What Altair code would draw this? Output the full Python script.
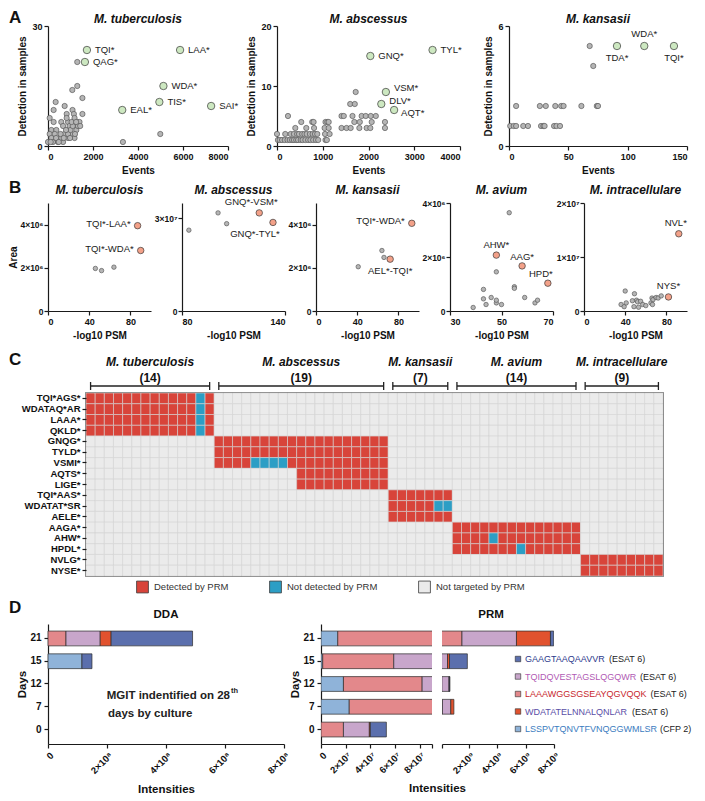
import altair as alt
import pandas as pd

FONT = "Liberation Sans"
SUP = {6: "⁶", 7: "⁷", 8: "⁸", 9: "⁹"}

# ================= Panel A data: events vs detection in samples =================
A_TB_GREY = [(1300, 21), (1080, 14), (1300, 15), (1530, 12), (1530, 8), (830, 8), (740, 10), (1090, 9),
             (1150, 8), (250, 9), (340, 11), (74, 7), (250, 6), (590, 6), (890, 6), (1110, 6), (1300, 6),
             (670, 5), (960, 5), (1260, 5), (830, 7), (1180, 7), (1400, 6), (150, 4), (370, 4), (740, 3),
             (1040, 3), (1260, 4), (1330, 5), (74, 3), (300, 3), (520, 2), (150, 2), (440, 1), (670, 1),
             (890, 2), (0, 1), (220, 1), (590, 2), (890, 3), (1180, 2), (1430, 5), (3330, 1), (4990, 3),
             (1000, 4), (1200, 3), (560, 3), (800, 4), (1100, 5), (980, 2), (360, 2), (120, 1), (480, 1),
             (700, 2), (1050, 6), (1250, 6)]
A_TB_LAB = ["TQI*", "QAG*", "LAA*", "WDA*", "TIS*", "SAI*", "EAL*"]
A_TB_LAB_X = [1730, 1640, 5870, 5130, 4950, 7250, 3300]
A_TB_LAB_Y = [24, 21, 24, 15, 11, 10, 9]

A_AB_GREY = [(20, 1), (60, 1), (110, 1), (170, 1), (230, 1), (280, 1), (330, 1), (370, 1), (420, 1), (460, 1),
             (520, 1), (560, 1), (620, 1), (680, 1), (730, 1), (790, 1), (850, 1), (900, 1), (1060, 1), (1090, 1),
             (0, 2), (180, 2), (300, 2), (370, 2), (440, 2), (480, 2), (550, 2), (600, 2), (650, 2), (720, 2),
             (780, 2), (830, 2), (880, 2), (1050, 2), (1150, 2),
             (400, 3), (640, 3), (810, 3), (1040, 3), (1130, 3), (1410, 3), (1520, 3), (1610, 3), (1800, 3),
             (1960, 3), (2040, 3), (2360, 3),
             (530, 4), (770, 4), (800, 4), (1060, 4), (1100, 4), (1130, 4), (1690, 4), (1810, 4), (2070, 4), (2360, 4),
             (240, 5), (1410, 5), (1460, 5), (1650, 5), (1850, 5), (1940, 5), (2050, 5), (2160, 5),
             (1600, 7), (1700, 7), (1720, 9)]
A_AB_LAB = ["GNQ*", "TYL*", "VSM*", "DLV*", "AQT*"]
A_AB_LAB_X = [2040, 3400, 2380, 2280, 2560]
A_AB_LAB_Y = [15, 16, 9, 7, 6]

A_KA_GREY = [(68, 5), (71, 4), (6, 2), (26, 2), (31, 2), (39, 2), (44, 2), (46, 2), (61, 2), (74, 2), (75, 2),
             (1, 1), (4, 1), (6, 1), (12, 1), (16, 1), (27, 1), (29, 1), (30, 1), (38, 1), (40, 1), (43, 1)]
A_KA_LAB = ["TDA*", "WDA*", "TQI*"]
A_KA_LAB_X = [91, 114, 139]
A_KA_LAB_Y = [5, 5, 5]

# ================= Panel B data: -log10 PSM vs area =================
B_TB_GREY = [(46, 1.97e6), (52, 1.87e6), (64, 2.03e6)]
B_TB_LAB = ["TQI*-LAA*", "TQI*-WDA*"]
B_TB_LAB_X = [87, 90]
B_TB_LAB_Y = [3.95e6, 2.8e6]

B_AB_GREY = [(84, 2.62e7), (101, 3.18e7), (106, 2.83e7)]
B_AB_LAB = ["GNQ*-VSM*", "GNQ*-TYL*"]
B_AB_LAB_X = [125, 133]
B_AB_LAB_Y = [3.18e7, 2.87e7]

B_KA_GREY = [(64, 2.8e6), (66, 2.48e6), (41, 2.05e6)]
B_KA_LAB = ["TQI*-WDA*", "AEL*-TQI*"]
B_KA_LAB_X = [93, 72]
B_KA_LAB_Y = [4.06e6, 2.4e6]

B_AV_GREY = [(53, 3.64e6), (48, 1.45e6), (55, 0.9e6), (55, 0.84e6), (43, 0.8e6), (43, 0.45e6), (46, 0.5e6),
             (44, 0.24e6), (39, 0.13e6), (48, 0.3e6), (50, 0.24e6), (48, 0.4e6), (59, 0.5e6), (63, 0.3e6),
             (64, 0.4e6)]
B_AV_LAB = ["AHW*", "AAG*", "HPD*"]
B_AV_LAB_X = [48, 58, 68]
B_AV_LAB_Y = [2.07e6, 1.67e6, 1.03e6]

B_IN_GREY = [(40, 0.37e7), (49, 0.32e7), (36, 0.12e7), (39, 0.08e7), (41, 0.15e7), (47, 0.19e7), (48.5, 0.08e7),
             (51, 0.2e7), (52, 0.17e7), (53, 0.07e7), (55, 0.18e7), (57, 0.12e7), (60, 0.1e7), (65, 0.15e7),
             (66, 0.24e7), (67, 0.21e7), (70, 0.25e7), (72, 0.24e7), (75, 0.28e7), (66.5, 0.12e7)]
B_IN_LAB = ["NVL*", "NYS*"]
B_IN_LAB_X = [92, 82]
B_IN_LAB_Y = [1.43e7, 0.26e7]

# ================= Panel C data: PRM detection heatmap =================
HM_GROUPS = ["M. tuberculosis", "M. abscessus", "M. kansasii", "M. avium", "M. intracellulare"]
HM_GROUP_N = [14, 19, 7, 14, 9]
HM_PEPTIDES = ["TQI*AGS*", "WDATAQ*AR ", "LAAA*", "QKLD*", "GNQG*", "TYLD*", "VSMI*", "AQTS*", "LIGE*",
               "TQI*AAS*", "WDATAT*SR ", "AELE*", "AAGA*", "AHW*", "HPDL*", "NVLG*", "NYSE*"]
HM_PEP_GROUP = [0, 0, 0, 0, 1, 1, 1, 1, 1, 2, 2, 2, 3, 3, 3, 4, 4]
HM_PEP_FIRST = [0, 0, 0, 0, 0, 0, 0, 9, 9, 0, 0, 0, 0, 0, 0, 0, 0]
HM_PEP_MISSED = [[12], [12], [12], [12], [], [], [4, 5, 6, 7], [], [], [], [5, 6], [], [], [4], [7], [], []]
STATUS = ["Detected by PRM", "Not detected by PRM", "Not targeted by PRM"]
STATUS_COLORS = ["#d8443a", "#2c9ec5", "#ebebeb"]

# ================= Panel D data: DDA vs PRM intensities =================
DAYS = ["21", "15", "12", "7", "0"]
PEPS = ["LSSPVTQNVTFVNQGGWMLSR", "LAAAWGGSGSEAYQGVQQK", "TQIDQVESTAGSLQGQWR", "WDATATELNNALQNLAR", "GAAGTAAQAAVVR"]
PEP_COLORS = ["#8fb3d9", "#e3888b", "#c8a6cb", "#e1522e", "#5b6fad"]
DDA_LSSP = [0, 1.15e8, 0, 0, 0]
DDA_LAAA = [0.61e8, 0, 0, 0, 0]
DDA_TQID = [1.16e8, 0, 0, 0, 0]
DDA_WDAT = [0.37e8, 0, 0, 0, 0]
DDA_GAAG = [2.76e8, 0.34e8, 0, 0, 0]
PRM_LSSP = [1.36e7, 0.14e7, 1.82e7, 2.29e7, 0]
PRM_LAAA = [1.486e9, 5.76e7, 6.38e7, 9.7e7, 1.82e7]
PRM_TQID = [3.85e9, 4.21e8, 5.08e8, 5.9e8, 2.1e7]
PRM_WDAT = [2.4e9, 1.4e8, 2.0e7, 2.2e8, 0.08e7]
PRM_GAAG = [2.3e8, 1.26e9, 4.0e7, 0, 1.3e7]
LEG_PEPS = ["GAAGTAAQAAVVR", "TQIDQVESTAGSLQGQWR", "LAAAWGGSGSEAYQGVQQK", "WDATATELNNALQNLAR", "LSSPVTQNVTFVNQGGWMLSR"]
LEG_SUFFIX = ["(ESAT 6)", "(ESAT 6)", "(ESAT 6)", "(ESAT 6)", "(CFP 2)"]
LEG_TEXT_COLORS = ["#2c3a8c", "#b15ab4", "#c8262c", "#5a4ea6", "#3a7cc0"]

# Arial / Liberation Sans advance widths (per 1000 em), upper case
ARIAL_W = {"A": 667, "B": 667, "C": 722, "D": 722, "E": 667, "F": 611, "G": 778, "H": 722, "I": 278, "J": 500,
           "K": 667, "L": 556, "M": 833, "N": 722, "O": 778, "P": 667, "Q": 778, "R": 722, "S": 667, "T": 611,
           "U": 722, "V": 667, "W": 944, "X": 667, "Y": 667, "Z": 611, " ": 278, "(": 333, ")": 333}


def text_w(s, size):
    tot = 0
    for ch in s:
        tot += 556 if ch.isdigit() else ARIAL_W.get(ch, 556)
    return tot / 1000.0 * size


def txt(t, x, y, size=12, weight="bold", style="normal", align="center", color="#111"):
    return alt.Chart(pd.DataFrame({"t": [t]})).mark_text(
        align=align, baseline="alphabetic", font=FONT, fontSize=size, fontWeight=weight, fontStyle=style,
        color=color).encode(x=alt.value(x), y=alt.value(y), text="t:N")


def letter_layer(ch, dx, dy):
    return txt(ch, dx, dy, size=17, align="left")


def exp_expr(e):
    return f"datum.value == 0 ? '0' : format(datum.value / 1e{e}, 'd') + '×10{SUP[e]}'"


def scatter(title, grey, lnames, lx, ly, offs, xdom, xvals, ydom, yvals, w, h, xtitle, ytitle,
            yexp=None, gsize=28, lsize=55, lfill="#cde8c1", lfont=9.5, letter=None, ty=-4):
    g = pd.DataFrame(grey, columns=["x", "y"])
    l = pd.DataFrame({"x": lx, "y": ly, "t": lnames})
    xs = alt.Scale(domain=xdom, nice=False, zero=False)
    ys = alt.Scale(domain=ydom, nice=False, zero=False)
    xax = alt.Axis(values=xvals, title=xtitle, format="d", labelOverlap=False)
    if yexp is None:
        yax = alt.Axis(values=yvals, title=ytitle, format="d", labelOverlap=False)
    else:
        yax = alt.Axis(values=yvals, title=ytitle, labelExpr=exp_expr(yexp), labelFontSize=8.5, labelOverlap=False,
                       labelPadding=1, titlePadding=1)
    layers = [
        alt.Chart(g).mark_circle(size=gsize, fill="#b5b5b5", stroke="#4a4a4a", strokeWidth=0.6, opacity=1).encode(
            x=alt.X("x:Q", scale=xs, axis=xax), y=alt.Y("y:Q", scale=ys, axis=yax)),
        alt.Chart(l).mark_circle(size=lsize, fill=lfill, stroke="#3a3a3a", strokeWidth=0.7, opacity=1).encode(
            x=alt.X("x:Q", scale=xs), y=alt.Y("y:Q", scale=ys)),
    ]
    for i, (dx, dy, al) in enumerate(offs):
        layers.append(alt.Chart(l.iloc[[i]]).mark_text(
            dx=dx, dy=dy, align=al, baseline="middle", font=FONT, fontSize=lfont, color="#1a1a1a"
        ).encode(x=alt.X("x:Q", scale=xs), y=alt.Y("y:Q", scale=ys), text="t:N"))
    layers.append(txt(title, w / 2, ty, size=12, style="italic"))
    if letter:
        layers.append(letter_layer(*letter))
    return alt.layer(*layers).properties(width=w, height=h)


# ---------------- Row A ----------------
R = (8, 0, "left")
A1 = scatter("M. tuberculosis", A_TB_GREY, A_TB_LAB, A_TB_LAB_X, A_TB_LAB_Y, [R] * 7,
             [0, 8000], [0, 2000, 4000, 6000, 8000], [0, 30], [0, 10, 20, 30], 180, 120,
             "Events", "Detection in samples", letter=("A", -39, -3), ty=-3)
A2 = scatter("M. abscessus", A_AB_GREY, A_AB_LAB, A_AB_LAB_X, A_AB_LAB_Y,
             [R, R, (8, -4, "left"), (8, -3, "left"), (7, 3, "left")],
             [0, 4000], [0, 1000, 2000, 3000, 4000], [0, 20], [0, 5, 10, 15, 20], 183, 120,
             "Events", "Detection in samples", ty=-3)
A3 = scatter("M. kansasii", A_KA_GREY, A_KA_LAB, A_KA_LAB_X, A_KA_LAB_Y,
             [(0, 12, "center"), (0, -12, "center"), (0, 12, "center")],
             [0, 150], [0, 50, 100, 150], [0, 6], [0, 2, 4, 6], 178, 120,
             "Events", "Detection in samples", ty=-3)
rowA = alt.hconcat(A1, A2, A3, spacing=49, bounds="flush")

# ---------------- Row B ----------------
OR = "#f3a189"
bw, bh = 103, 108
BK = dict(gsize=20, lsize=42, lfill=OR, lfont=9.5, ty=-9)
B1 = scatter("M. tuberculosis", B_TB_GREY, B_TB_LAB, B_TB_LAB_X, B_TB_LAB_Y, [(-7, -2, "right"), (-7, -2, "right")],
             [0, 100], [0, 20, 40, 60, 80, 100], [0, 5e6], [0, 1e6, 2e6, 3e6, 4e6, 5e6], bw, bh,
             "-log10 PSM", "Area", yexp=6, letter=("B", -39, -10), **BK)
B2 = scatter("M. abscessus", B_AB_GREY, B_AB_LAB, B_AB_LAB_X, B_AB_LAB_Y, [(-8, -11, "center"), (-18, 12, "center")],
             [80, 140], [80, 100, 120, 140], [0, 3.5e7], [0, 1e7, 2e7, 3e7], bw, bh,
             "-log10 PSM", None, yexp=7, **BK)
B3 = scatter("M. kansasii", B_KA_GREY, B_KA_LAB, B_KA_LAB_X, B_KA_LAB_Y, [(-7, -2, "right"), (0, 12, "center")],
             [0, 100], [0, 20, 40, 60, 80, 100], [0, 5e6], [0, 1e6, 2e6, 3e6, 4e6, 5e6], bw, bh,
             "-log10 PSM", None, yexp=6, **BK)
B4 = scatter("M. avium", B_AV_GREY, B_AV_LAB, B_AV_LAB_X, B_AV_LAB_Y,
             [(0, -10, "center"), (0, -9, "center"), (-7, -9, "center")],
             [30, 70], [30, 40, 50, 60, 70], [0, 4e6], [0, 1e6, 2e6, 3e6, 4e6], bw, bh,
             "-log10 PSM", None, yexp=6, **BK)
B5 = scatter("M. intracellulare", B_IN_GREY, B_IN_LAB, B_IN_LAB_X, B_IN_LAB_Y, [(-3, -11, "center"), (0, -11, "center")],
             [0, 100], [0, 20, 40, 60, 80, 100], [0, 2e7], [0, 1e7, 2e7], bw, bh,
             "-log10 PSM", None, yexp=7, **BK)
rowB = alt.hconcat(B1, B2, B3, B4, B5, spacing=31, bounds="flush")

# ---------------- Row C: heatmap ----------------
starts = []
acc = 0
for n in HM_GROUP_N:
    starts.append(acc)
    acc += n
TOTAL = acc
cells = []
for r, pep in enumerate(HM_PEPTIDES):
    gi = HM_PEP_GROUP[r]
    for c in range(TOTAL):
        st = 2
        off = c - starts[gi]
        if HM_PEP_FIRST[r] <= off < HM_GROUP_N[gi]:
            st = 1 if off in HM_PEP_MISSED[r] else 0
        cells.append({"pep": pep, "c0": c, "c1": c + 1, "status": STATUS[st]})
cells_df = pd.DataFrame(cells)
hdr = pd.DataFrame({
    "group": HM_GROUPS,
    "nlab": [f"({n})" for n in HM_GROUP_N],
    "mid": [s + n / 2 for s, n in zip(starts, HM_GROUP_N)],
    "r0": [s + 0.5 for s in starts],
    "r1": [s + n - 0.5 for s, n in zip(starts, HM_GROUP_N)],
})
xsc = alt.Scale(domain=[0, TOTAL], nice=False, zero=False)
heat_cells = alt.Chart(cells_df).mark_rect(stroke="#d4d4d4", strokeWidth=0.6).encode(
    x=alt.X("c0:Q", scale=xsc, axis=None), x2="c1:Q",
    y=alt.Y("pep:N", scale=alt.Scale(domain=HM_PEPTIDES, paddingInner=0, paddingOuter=0),
            axis=alt.Axis(title=None, domain=False, labelFontSize=9.5, tickSize=4, labelPadding=2)),
    color=alt.Color("status:N", scale=alt.Scale(domain=STATUS, range=STATUS_COLORS),
                    legend=alt.Legend(title=None, orient="none", legendX=88, legendY=187, direction="horizontal",
                                      symbolType="square", symbolSize=140, symbolStrokeColor="#3a3a3a",
                                      symbolStrokeWidth=0.8, symbolOpacity=1, labelFont=FONT, labelFontSize=9.5,
                                      labelColor="#333", columnPadding=38, labelOffset=5)))
hdr_rule = alt.Chart(hdr).mark_rule(color="#222", strokeWidth=1.3).encode(
    x=alt.X("r0:Q", scale=xsc), x2="r1:Q", y=alt.value(-7))
hdr_t0 = alt.Chart(hdr).mark_rule(color="#222", strokeWidth=1.3).encode(
    x=alt.X("r0:Q", scale=xsc), y=alt.value(-11), y2=alt.value(-3))
hdr_t1 = alt.Chart(hdr).mark_rule(color="#222", strokeWidth=1.3).encode(
    x=alt.X("r1:Q", scale=xsc), y=alt.value(-11), y2=alt.value(-3))
hdr_n = alt.Chart(hdr).mark_text(font=FONT, fontSize=12, fontWeight="bold", color="#111", baseline="middle").encode(
    x=alt.X("mid:Q", scale=xsc), y=alt.value(-15), text="nlab:N")
hdr_g = alt.Chart(hdr).mark_text(font=FONT, fontSize=12, fontWeight="bold", fontStyle="italic", color="#111",
                                 baseline="middle").encode(
    x=alt.X("mid:Q", scale=xsc), y=alt.value(-31), text="group:N")
heat = alt.layer(heat_cells, hdr_rule, hdr_t0, hdr_t1, hdr_n, hdr_g, letter_layer("C", -77, -28)).properties(
    width=577, height=183, view=alt.ViewBackground(stroke="#4d4d4d", strokeWidth=1.6))
spacer = alt.Chart(pd.DataFrame({"v": [0]})).mark_point(opacity=0, size=1).encode(
    x=alt.value(0), y=alt.value(0)).properties(width=1, height=183)
rowC = alt.hconcat(spacer, heat, spacing=37, bounds="flush")

# ---------------- Row D ----------------
def long_df(series):
    rows = []
    for pi, (pep, vals) in enumerate(zip(PEPS, series)):
        for d, v in zip(DAYS, vals):
            if v > 0:
                rows.append({"day": d, "pep": pep, "val": v, "ord": pi})
    return pd.DataFrame(rows)


dda_df = long_df([DDA_LSSP, DDA_LAAA, DDA_TQID, DDA_WDAT, DDA_GAAG])
prm_df = long_df([PRM_LSSP, PRM_LAAA, PRM_TQID, PRM_WDAT, PRM_GAAG])
yband = alt.Scale(domain=DAYS, paddingInner=0.35, paddingOuter=0.31)
cscale = alt.Scale(domain=PEPS, range=PEP_COLORS)
yax_days = alt.Axis(title="Days", labelFontSize=10, titleFontSize=11.5, labelPadding=3, titlePadding=2)
dh = 120
ROT = dict(labelAngle=-45, labelAlign="right", labelBaseline="top", labelOverlap=False, labelFontSize=9.5)


def bars(df, xs, xax, yax, clip=False):
    return alt.Chart(df).mark_bar(stroke="#2b2b2b", strokeWidth=0.7, clip=clip).encode(
        x=alt.X("val:Q", stack="zero", scale=xs, axis=xax),
        y=alt.Y("day:N", scale=yband, axis=yax),
        color=alt.Color("pep:N", scale=cscale, legend=None),
        order=alt.Order("ord:Q"))


dda_bars = bars(dda_df, alt.Scale(domain=[0, 8e8], nice=False),
                alt.Axis(values=[0, 2e8, 4e8, 6e8, 8e8], labelExpr=exp_expr(8),
                         title="Intensities", titleFontSize=11.5, titlePadding=8, **ROT), yax_days)
mg_size = 11.5
DDA = alt.layer(
    dda_bars,
    txt("MGIT indentified on 28", 182, 75, size=mg_size, align="right", color="#222"),
    txt("th", 183, 69, size=7.5, align="left", color="#222"),
    txt("days by culture", 60, 93, size=mg_size, align="left", color="#222"),
    txt("DDA", 118, -6, size=11.5),
    letter_layer("D", -39, -11),
).properties(width=236, height=dh)

prm_left = bars(prm_df, alt.Scale(domain=[0, 9e7], nice=False),
                alt.Axis(values=[0, 2e7, 4e7, 6e7, 8e7, 9e7],
                         labelExpr="datum.value > 8.5e7 ? '' : (" + exp_expr(7) + ")",
                         title="Intensities", titleFontSize=11.5, titlePadding=8, titleX=116, titleAlign="center",
                         **ROT),
                yax_days, clip=True).properties(width=111, height=dh)

leg_layers = []
LEG_FS = 9.0
for i, (pep, suf, col) in enumerate(zip(LEG_PEPS, LEG_SUFFIX, LEG_TEXT_COLORS)):
    yy = 35 + i * 17.5
    fill = PEP_COLORS[PEPS.index(pep)]
    leg_layers.append(alt.Chart(pd.DataFrame({"t": [pep]})).mark_square(
        size=30, fill=fill, stroke="#2b2b2b", strokeWidth=0.6, opacity=1).encode(x=alt.value(76), y=alt.value(yy)))
    leg_layers.append(alt.Chart(pd.DataFrame({"t": [pep]})).mark_text(
        align="left", baseline="middle", font=FONT, fontSize=LEG_FS, color=col).encode(
        x=alt.value(83), y=alt.value(yy), text="t:N"))
    leg_layers.append(alt.Chart(pd.DataFrame({"t": [suf]})).mark_text(
        align="left", baseline="middle", font=FONT, fontSize=LEG_FS, color="#222").encode(
        x=alt.value(83 + text_w(pep, LEG_FS) + 3), y=alt.value(yy), text="t:N"))

prm_right_bars = bars(prm_df, alt.Scale(domain=[9e7, 8e9], nice=False, zero=False),
                      alt.Axis(values=[9e7, 2e9, 4e9, 6e9, 8e9],
                               labelExpr="datum.value < 1e9 ? '' : (" + exp_expr(9) + ")",
                               title=None, **ROT), None, clip=True)
PRMR = alt.layer(prm_right_bars, txt("PRM", 49, -6, size=11.5), *leg_layers).properties(width=112, height=dh)
prm_pair = alt.hconcat(prm_left, PRMR, spacing=10, bounds="flush").resolve_scale(x="independent")
rowD = alt.hconcat(DDA, prm_pair, spacing=37, bounds="flush").resolve_scale(x="independent")

top = alt.vconcat(rowA, rowB, spacing=2)
bottom = alt.vconcat(rowC, rowD, spacing=3).resolve_scale(color="independent")
chart = alt.vconcat(top, bottom, spacing=9).resolve_scale(color="independent").properties(
    padding=0, background="white").configure_view(
    stroke="transparent").configure_axis(
    labelFont=FONT, titleFont=FONT, labelFontWeight="bold", titleFontWeight="bold", labelColor="#111",
    titleColor="#111", domainColor="#1a1a1a", tickColor="#1a1a1a", domainWidth=1.2, tickWidth=1.2, tickSize=4,
    labelFontSize=9, titleFontSize=10, grid=False, labelPadding=2, titlePadding=4, labelOverlap=False)

chart.save("out.html", embed_options={"renderer": "svg", "actions": False})
